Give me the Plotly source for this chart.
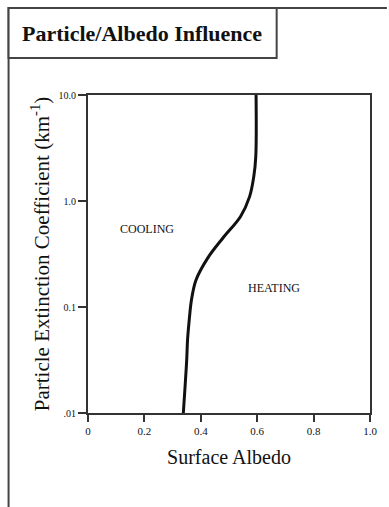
import math
import plotly.graph_objects as go

# Data
extinction = [10, 2.64, 1.71, 1.10, 0.715, 0.45, 0.291, 0.18, 0.117, 0.0755, 0.0489, 0.0316, 0.01]
albedo = [0.596, 0.595, 0.588, 0.573, 0.541, 0.479, 0.425, 0.383, 0.367, 0.359, 0.353, 0.350, 0.338]

x_ticks = [0, 0.2, 0.4, 0.6, 0.8, 1.0]
x_tick_labels = ["0", "0.2", "0.4", "0.6", "0.8", "1.0"]
y_ticks = [10, 1, 0.1, 0.01]
y_tick_labels = ["10.0", "1.0", "0.1", ".01"]

regions = ["COOLING", "HEATING"]
region_x = [0.21, 0.658]
region_y = [0.547, 0.151]

W, H = 389, 507
L, R, T, B = 88, 17, 95, 94
pw, ph = W - L - R, H - T - B


def px(x):
    return (x - L) / pw


def py(y):
    return (H - B - y) / ph


serif = "Liberation Serif, Times New Roman, serif"

fig = go.Figure()
fig.add_trace(go.Scatter(
    x=albedo, y=extinction, mode="lines",
    line=dict(color="#111", width=3, shape="spline", smoothing=1.0),
    hoverinfo="skip", showlegend=False,
))

for t, xx, yy in zip(regions, region_x, region_y):
    fig.add_annotation(x=xx, y=math.log10(yy), xref="x", yref="y", text=t,
                       showarrow=False, xanchor="center", yanchor="middle",
                       font=dict(family=serif, size=12, color="#111"))

# outer frame (top and left edges) and title box
line_c = "#444"
fig.add_shape(type="path", xref="paper", yref="paper",
              path=f"M {px(389)},{py(8)} L {px(8)},{py(8)} L {px(8)},{py(507)}",
              line=dict(color=line_c, width=2))
fig.add_shape(type="rect", xref="paper", yref="paper",
              x0=px(8), x1=px(278), y0=py(58), y1=py(8),
              line=dict(color=line_c, width=2), fillcolor="white")
fig.add_annotation(xref="paper", yref="paper", x=px(142), y=py(34),
                   xanchor="center", yanchor="middle",
                   text="<b>Particle/Albedo Influence</b>", showarrow=False,
                   font=dict(family=serif, size=22, color="#111"))

fig.update_layout(
    width=W, height=H,
    margin=dict(l=L, r=R, t=T, b=B),
    paper_bgcolor="white", plot_bgcolor="white",
    font=dict(family=serif, color="#111"),
    xaxis=dict(
        range=[0, 1], tickvals=x_ticks, ticktext=x_tick_labels,
        ticks="outside", ticklen=7, tickwidth=2, tickcolor="#333",
        showline=True, linecolor="#333", linewidth=2, mirror=True,
        showgrid=False, zeroline=False,
        tickfont=dict(family=serif, size=11),
        title=dict(text="Surface Albedo", font=dict(family=serif, size=20), standoff=14),
    ),
    yaxis=dict(
        type="log", range=[-2, 1], tickvals=y_ticks, ticktext=y_tick_labels,
        ticks="outside", ticklen=8, tickwidth=2, tickcolor="#333",
        showline=True, linecolor="#333", linewidth=2, mirror=True,
        showgrid=False, zeroline=False,
        tickfont=dict(family=serif, size=10),
        title=dict(text="Particle Extinction Coefficient (km<sup>-1</sup>)",
                   font=dict(family=serif, size=21), standoff=3),
    ),
)

fig.write_html("out.html", config={"displayModeBar": False},
               post_script="document.body.style.margin='0';")
